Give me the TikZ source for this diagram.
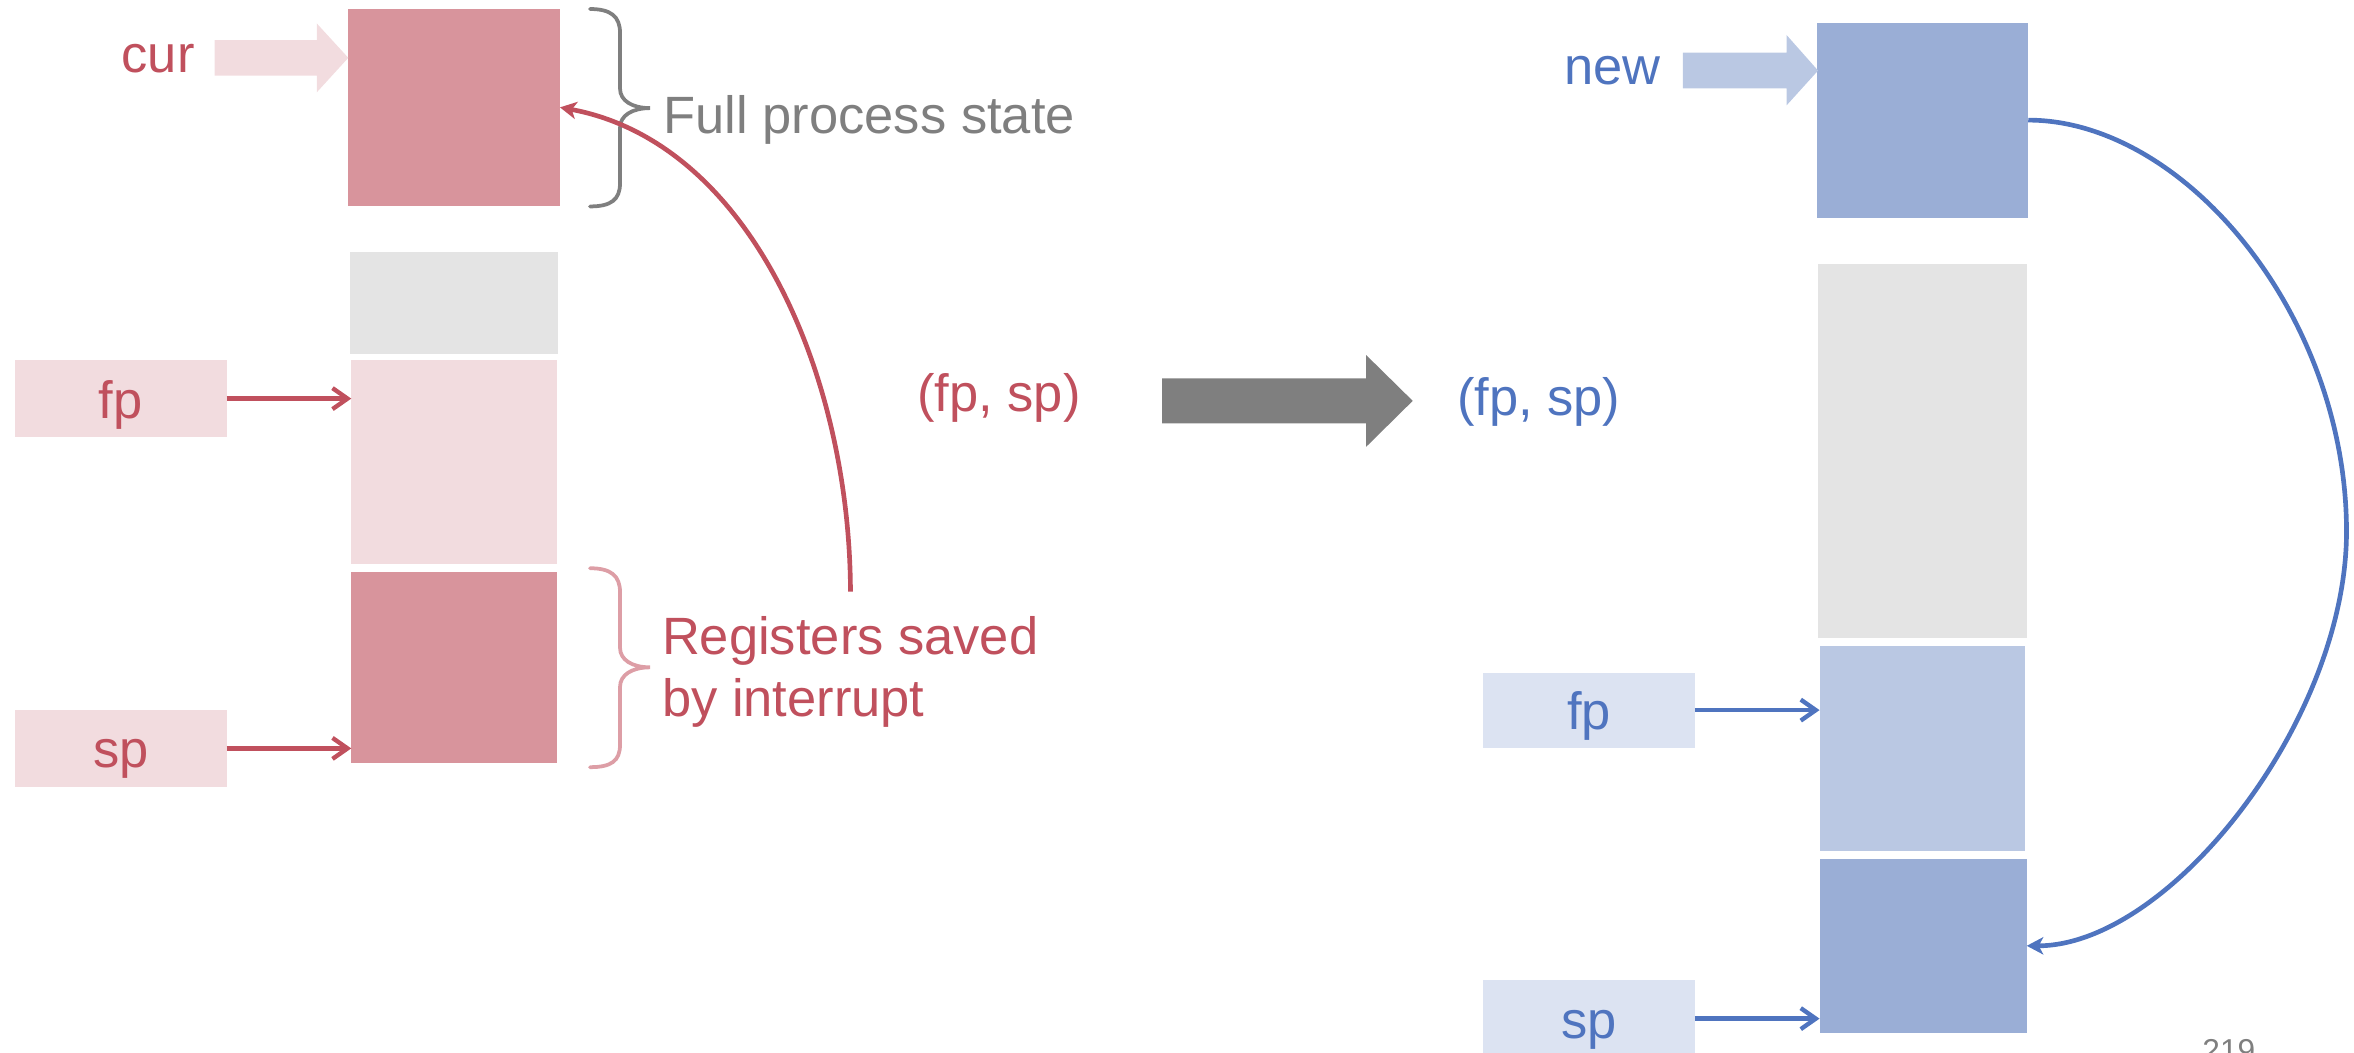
\documentclass[tikz,border=0pt]{standalone}
\usepackage{fontspec}
\setmainfont{Liberation Sans}
\usetikzlibrary{arrows.meta,fit}

\definecolor{accred}{HTML}{C0505D}
\definecolor{pinkdark}{HTML}{D8949C}
\definecolor{pinklight}{HTML}{F2DCDF}
\definecolor{pinkbrace}{HTML}{DD9EA6}
\definecolor{graytext}{HTML}{7F7F7F}
\definecolor{graybox}{HTML}{E4E4E4}
\definecolor{accblue}{HTML}{4F74BF}
\definecolor{bluedark}{HTML}{9AAED6}
\definecolor{bluelight}{HTML}{BAC8E3}
\definecolor{bluetag}{HTML}{DCE3F2}

\begin{document}
\begin{tikzpicture}[x=0.02cm, y=-0.02cm,
  every node/.style={font=\fontsize{19.9pt}{23.6pt}\selectfont, inner sep=0pt, outer sep=0pt},
  cell/.style={draw=none},
  tag/.style={minimum width=2.82cm, minimum height=1.02cm, text height=0.52cm, text depth=0pt},
  lbl/.style={anchor=base west},
  ptr/.style={line width=0.058cm, -{Straight Barb[length=0.2cm,width=0.28cm]}},
  bendarrow/.style={line width=0.062cm, -{Stealth[length=0.22cm,width=0.23cm,inset=0.06cm]}},
  curly/.style={line width=0.05cm, line cap=round}
]
\useasboundingbox (0,0) rectangle (1568,701);

% ---------- current process (left) ----------
\node[cell, fill=pinkdark,  fit={(232,6) (373,137)}]   (L1) {};
\node[cell, fill=graybox,   fit={(233,168) (372,236)}] (L2) {};
\node[cell, fill=pinklight, fit={(234,240) (371,376)}] (L3) {};
\node[cell, fill=pinkdark,  fit={(234,381) (371,508)}] (L4) {};

\node[tag, fill=pinklight, text=accred] (fpL) at (80.5,265.5) {fp};
\node[tag, fill=pinklight, text=accred] (spL) at (80.5,498.5) {sp};
\draw[ptr, accred] (fpL.east) -- (fpL.east -| L3.west);
\draw[ptr, accred] (spL.east) -- (spL.east -| L4.west);

\node[lbl, text=accred] (curT) at (81,48) {cur};
\fill[pinklight] (143,26.7) -- (211,26.7) -- (211,15.6) -- (232,38.5)
  -- (211,61.5) -- (211,50.4) -- (143,50.4) -- cycle;

% braces
\draw[curly, graytext] (393,6) .. controls (407,6) and (413,11) .. (413,22) -- (413,59)
  .. controls (413,67) and (421,72) .. (433,72) .. controls (421,72) and (413,77) .. (413,85)
  -- (413,122) .. controls (413,133) and (407,137.5) .. (393,137.5);
\draw[curly, pinkbrace] (393,378.5) .. controls (407,378.5) and (413,383.5) .. (413,394.5) -- (413,431.5)
  .. controls (413,439.5) and (421,444.5) .. (433,444.5) .. controls (421,444.5) and (413,449.5) .. (413,457.5)
  -- (413,496) .. controls (413,507) and (407,511) .. (393,511);

\node[lbl, text=graytext] (fullT) at (442,89) {Full process state};
\node[lbl, text=accred] (regA) at (441,436) {Registers saved};
\node[lbl, text=accred] (regB) at (441,477.5) {by interrupt};

% saved registers are pushed back into the process state
\coordinate (rstart) at (566.5,394);
\draw[bendarrow, accred] (rstart) .. controls (566,250) and (500,95) .. (L1.east);

\node[lbl, text=accred] (pairOld) at (611,274) {(fp, sp)};

% ---------- switch ----------
\fill[graytext] (774,252) -- (910,252) -- (910,236.5) -- (941,267)
  -- (910,297.6) -- (910,282) -- (774,282) -- cycle;
\node[lbl, text=accblue] (pairNew) at (970.5,277) {(fp, sp)};

% ---------- new process (right) ----------
\node[cell, fill=bluedark,  fit={(1210,15) (1351,145)}]  (R1) {};
\node[cell, fill=graybox,   fit={(1211,176) (1350,425)}] (R2) {};
\node[cell, fill=bluelight, fit={(1212,430) (1349,567)}] (R3) {};
\node[cell, fill=bluedark,  fit={(1212,572) (1350,688)}] (R4) {};

\node[tag, fill=bluetag, text=accblue, minimum height=1.0cm] (fpR) at (1058.5,473) {fp};
\node[tag, fill=bluetag, text=accblue] (spR) at (1058.5,678.5) {sp};
\draw[ptr, accblue] (fpR.east) -- (fpR.east -| R3.west);
\draw[ptr, accblue] (spR.east) -- (spR.east -| R4.west);

\node[lbl, text=accblue] (newT) at (1042,56.6) {new};
\fill[bluelight] (1121,35) -- (1190,35) -- (1190,23.3) -- (1211,47)
  -- (1190,70.2) -- (1190,58.8) -- (1121,58.8) -- cycle;

% restored registers come from the saved state
\coordinate (rturn) at (1563,354);
\draw[bendarrow, accblue] (R1.east) .. controls (1455,80) and (1563,210) .. (rturn)
  .. controls (1563,480) and (1445,630) .. (R4.east);

% page number
\node[lbl, text=graytext, font=\fontsize{12pt}{14pt}\selectfont] (pageno) at (1467,707) {219};
\end{tikzpicture}
\end{document}
